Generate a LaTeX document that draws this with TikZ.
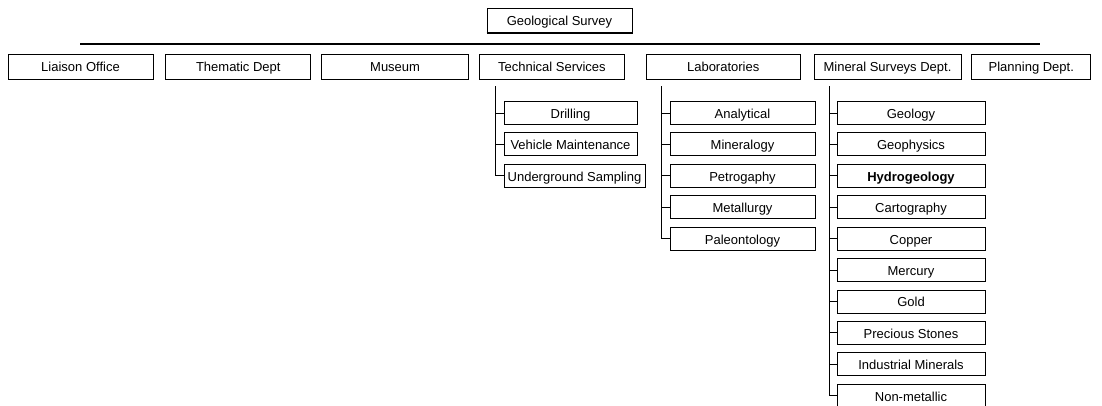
\documentclass[tikz,border=0pt]{standalone}
\usepackage{fontspec}
\setmainfont{Liberation Sans}
\usetikzlibrary{positioning}

\begin{document}
\begin{tikzpicture}[
  x=1pt, y=-1pt,
  unit/.style={draw, line width=0.8pt, align=center, font=\fontsize{13}{15}\selectfont,
               minimum height=25pt, text height=13pt, text depth=2pt, inner xsep=1pt},
  sub/.style={unit, minimum height=23pt},
  trunk/.style={line width=0.8pt},
  node distance=7.6pt
]
  \useasboundingbox (0,0) rectangle (1102,406);

  % head
  \node[unit, minimum width=145pt] (gs) at (559.5,20.5) {Geological Survey};
  \draw[line width=2pt] (gs.south west) -- (gs.south east);
  \coordinate (ruleL) at (80,44);
  \coordinate (ruleR) at (1040,44);
  \draw[line width=1.4pt] (ruleL) -- (ruleR);

  % departments
  \node[unit, minimum width=145pt] (liaison) at (80.5,66.5) {Liaison Office};
  \node[unit, minimum width=145pt, right=12pt of liaison] (thematic) {Thematic Dept};
  \node[unit, minimum width=147pt, right=10pt of thematic] (museum) {Museum};
  \node[unit, minimum width=145pt, right=10pt of museum] (tech) {Technical Services};
  \node[unit, minimum width=154pt, right=21pt of tech] (labs) {Laboratories};
  \node[unit, minimum width=147pt, right=13pt of labs] (mineral) {Mineral Surveys Dept.};
  \node[unit, minimum width=119pt, right=10pt of mineral] (planning) {Planning Dept.};

  % technical services
  \node[sub, minimum width=133pt] (drill) at (570.5,113) {Drilling};
  \node[sub, minimum width=133pt, below=of drill.south west, anchor=north west] (vehicle) {Vehicle Maintenance};
  \node[sub, minimum width=141pt, below=of vehicle.south west, anchor=north west] (sampling) {Underground Sampling};

  % laboratories
  \node[sub, minimum width=145pt] (analytical) at (742.5,113) {Analytical};
  \node[sub, minimum width=145pt, below=of analytical] (mineralogy) {Mineralogy};
  \node[sub, minimum width=145pt, below=of mineralogy] (petro) {Petrogaphy};
  \node[sub, minimum width=145pt, below=of petro] (metal) {Metallurgy};
  \node[sub, minimum width=145pt, below=of metal] (paleo) {Paleontology};

  % mineral surveys
  \node[sub, minimum width=148pt] (geology) at (911,113) {Geology};
  \node[sub, minimum width=148pt, below=of geology] (geophys) {Geophysics};
  \node[sub, minimum width=148pt, below=of geophys] (hydro) {\bfseries Hydrogeology};
  \node[sub, minimum width=148pt, below=of hydro] (carto) {Cartography};
  \node[sub, minimum width=148pt, below=of carto] (copper) {Copper};
  \node[sub, minimum width=148pt, below=of copper] (mercury) {Mercury};
  \node[sub, minimum width=148pt, below=of mercury] (gold) {Gold};
  \node[sub, minimum width=148pt, below=of gold] (stones) {Precious Stones};
  \node[sub, minimum width=148pt, below=of stones] (industrial) {Industrial Minerals};
  \node[sub, minimum width=148pt, below=of industrial] (nonmetal) {Non-metallic};

  % trunks
  \coordinate (techtop) at ([xshift=16pt,yshift=-7pt]tech.south west);
  \coordinate (labstop) at ([xshift=16pt,yshift=-7pt]labs.south west);
  \coordinate (mineraltop) at ([xshift=16pt,yshift=-7pt]mineral.south west);
  \foreach \c in {drill,vehicle,sampling}
    \draw[trunk] (techtop) |- (\c.west);
  \foreach \c in {analytical,mineralogy,petro,metal,paleo}
    \draw[trunk] (labstop) |- (\c.west);
  \foreach \c in {geology,geophys,hydro,carto,copper,mercury,gold,stones,industrial,nonmetal}
    \draw[trunk] (mineraltop) |- (\c.west);
\end{tikzpicture}
\end{document}
